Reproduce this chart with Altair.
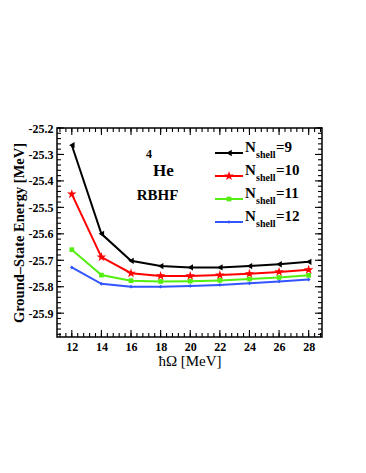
import altair as alt
import pandas as pd
import numpy as np

hw = [12, 14, 16, 18, 20, 22, 24, 26, 28]
e_n9 = [-25.265, -25.600, -25.702, -25.722, -25.727, -25.727, -25.722, -25.715, -25.706]
e_n10 = [-25.450, -25.688, -25.749, -25.759, -25.759, -25.756, -25.751, -25.744, -25.736]
e_n11 = [-25.660, -25.756, -25.777, -25.780, -25.779, -25.776, -25.771, -25.765, -25.757]
e_n12 = [-25.727, -25.789, -25.800, -25.800, -25.797, -25.793, -25.787, -25.780, -25.773]
series = ["9", "10", "11", "12"]
colors = ["#000000", "#ff0000", "#55ee11", "#3355ff"]
STAR = "M0,-1L0.224,-0.309L0.951,-0.309L0.363,0.118L0.588,0.809L0,0.382L-0.588,0.809L-0.363,0.118L-0.951,-0.309L-0.224,-0.309Z"
shapes = ["triangle-left", STAR, "square", "diamond"]
sizes = [40, 100, 22, 14]

x_major = [12, 14, 16, 18, 20, 22, 24, 26, 28]
y_major = [-25.2, -25.3, -25.4, -25.5, -25.6, -25.7, -25.8, -25.9]
x_minor = [float(round(v, 2)) for v in np.arange(11.2, 28.9, 0.4)]
y_minor = [float(round(v, 2)) for v in np.arange(-25.98, -25.19, 0.02)]

rows = []
for s, vals in zip(series, [e_n9, e_n10, e_n11, e_n12]):
    for h, v in zip(hw, vals):
        rows.append({"hw": h, "E": v, "N": s, "kind": "data"})
for v in x_major:
    rows.append({"hw": v, "E": -25.5, "N": "t", "kind": "xmaj"})
for v in x_minor:
    rows.append({"hw": v, "E": -25.5, "N": "t", "kind": "xmin"})
for v in y_major:
    rows.append({"hw": 20.0, "E": v, "N": "t", "kind": "ymaj"})
for v in y_minor:
    rows.append({"hw": 20.0, "E": v, "N": "t", "kind": "ymin"})
df = pd.DataFrame(rows)

W, H = 265, 209
FONT = "Liberation Serif"
xs = alt.Scale(domain=[11, 28.9], nice=False, zero=False)
ys = alt.Scale(domain=[-25.99, -25.2], nice=False, zero=False)

cscale = alt.Scale(domain=series, range=colors)

base = alt.Chart(df)
data_only = base.transform_filter("datum.kind == 'data'")

lines = data_only.mark_line(strokeWidth=2).encode(
    x=alt.X("hw:Q", scale=xs, axis=alt.Axis(
        orient="bottom", values=x_major, ticks=False, domain=False, grid=False,
        title="ħΩ [MeV]", labelFont=FONT, labelFontWeight="bold", labelFontSize=12,
        labelPadding=4, titleFont=FONT, titleFontWeight="normal", titleFontSize=15,
        titlePadding=1, labelColor="black", titleColor="black")),
    y=alt.Y("E:Q", scale=ys, axis=alt.Axis(
        orient="left", values=y_major,
        labelExpr="'-' + format(-datum.value, '.1f')",
        ticks=False, domain=False, grid=False,
        title="Ground–State Energy [MeV]", labelFont=FONT, labelFontWeight="bold",
        labelFontSize=12, labelPadding=4, titleFont=FONT, titleFontWeight="bold",
        titleFontSize=14.5, titlePadding=2, labelColor="black", titleColor="black")),
    color=alt.Color("N:N", scale=cscale, legend=None),
    detail="N:N",
)

point_layers = []
for s, c, sh, sz in zip(series, colors, shapes, sizes):
    point_layers.append(
        base.transform_filter(f"datum.kind == 'data' && datum.N == '{s}'")
        .mark_point(filled=True, opacity=1, strokeWidth=0, color=c, shape=sh, size=sz)
        .encode(x=alt.X("hw:Q", scale=xs, axis=None), y=alt.Y("E:Q", scale=ys, axis=None))
    )

tick_layers = []
for kind, length in [("xmaj", 7), ("xmin", 4)]:
    sub = base.transform_filter(f"datum.kind == '{kind}'")
    tick_layers.append(sub.mark_rule(color="black", strokeWidth=1.1).encode(
        x=alt.X("hw:Q", scale=xs, axis=None), y=alt.value(H), y2=alt.value(H - length)))
    tick_layers.append(sub.mark_rule(color="black", strokeWidth=1.1).encode(
        x=alt.X("hw:Q", scale=xs, axis=None), y=alt.value(0), y2=alt.value(length)))
for kind, length in [("ymaj", 7), ("ymin", 4)]:
    sub = base.transform_filter(f"datum.kind == '{kind}'")
    tick_layers.append(sub.mark_rule(color="black", strokeWidth=1.1).encode(
        y=alt.Y("E:Q", scale=ys, axis=None), x=alt.value(0), x2=alt.value(length)))
    tick_layers.append(sub.mark_rule(color="black", strokeWidth=1.1).encode(
        y=alt.Y("E:Q", scale=ys, axis=None), x=alt.value(W), x2=alt.value(W - length)))

one = alt.InlineData(values=[{"a": 1}])
ann = []
for i, (s, c, sh, sz) in enumerate(zip(series, colors, shapes, sizes)):
    yl = 25 + 23 * i
    ann.append(alt.Chart(one).mark_rule(color=c, strokeWidth=2).encode(
        x=alt.value(158), x2=alt.value(186), y=alt.value(yl)))
    ann.append(alt.Chart(one).mark_point(filled=True, opacity=1, strokeWidth=0, color=c, shape=sh, size=sz).encode(
        x=alt.value(172), y=alt.value(yl)))
    ann.append(alt.Chart(one).mark_text(text="N", font=FONT, fontWeight="bold", fontSize=15,
                                        align="left", baseline="alphabetic", color="black").encode(
        x=alt.value(188), y=alt.value(yl - 1)))
    ann.append(alt.Chart(one).mark_text(text="shell", font=FONT, fontWeight="bold", fontSize=10,
                                        align="left", baseline="alphabetic", color="black").encode(
        x=alt.value(199), y=alt.value(yl + 5)))
    ann.append(alt.Chart(one).mark_text(text="=" + s, font=FONT, fontWeight="bold", fontSize=15,
                                        align="left", baseline="alphabetic", color="black").encode(
        x=alt.value(219), y=alt.value(yl - 1)))

ann.append(alt.Chart(one).mark_text(text="4", font=FONT, fontWeight="bold", fontSize=12,
                                    align="left", baseline="alphabetic", color="black").encode(
    x=alt.value(89), y=alt.value(30)))
ann.append(alt.Chart(one).mark_text(text="He", font=FONT, fontWeight="bold", fontSize=17,
                                    align="left", baseline="alphabetic", color="black").encode(
    x=alt.value(96), y=alt.value(48)))
ann.append(alt.Chart(one).mark_text(text="RBHF", font=FONT, fontWeight="bold", fontSize=15,
                                    align="center", baseline="alphabetic", color="black").encode(
    x=alt.value(100.5), y=alt.value(72)))

chart = alt.layer(lines, *point_layers, *tick_layers, *ann).resolve_axis(
    x="independent", y="independent"
).properties(
    width=W, height=H,
    padding={"left": 49, "top": 120, "right": 30, "bottom": 100},
    autosize=alt.AutoSizeParams(type="none"),
).configure(background="white").configure_view(stroke="black", strokeWidth=1.5)

chart.save("out.html", embed_options={"renderer": "svg", "actions": False})
